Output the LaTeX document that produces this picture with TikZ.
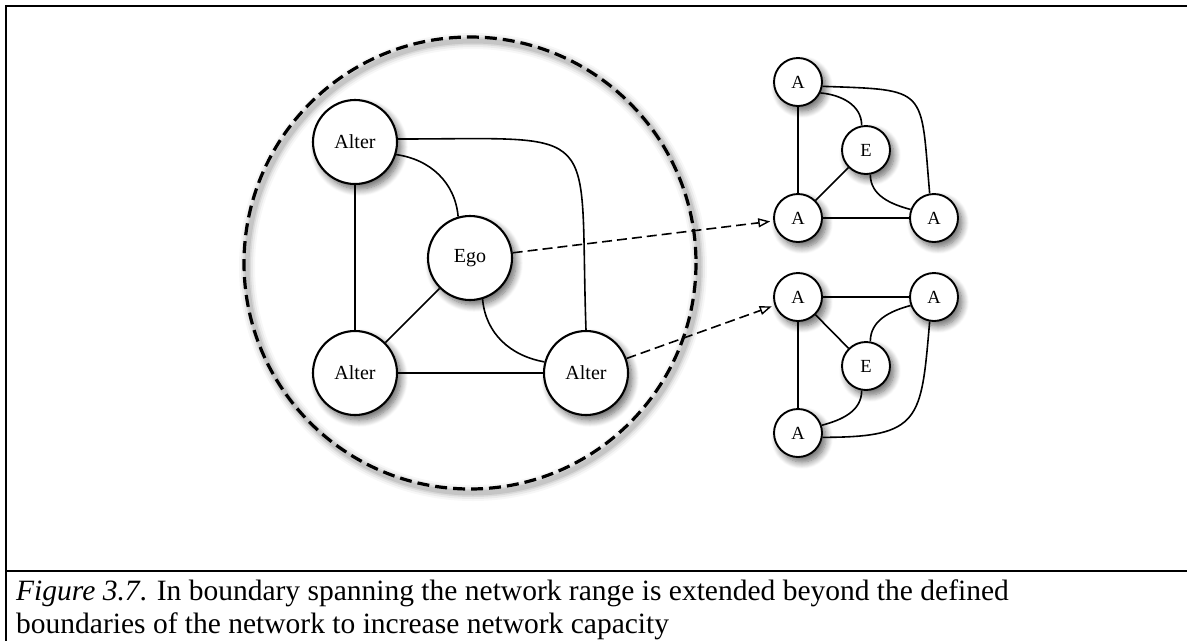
\documentclass[tikz,border=0pt]{standalone}
\usepackage{fontspec}
\setmainfont{Liberation Serif}
\usetikzlibrary{arrows.meta,shadows.blur}

\tikzset{
  nodeshadow/.style={blur shadow={shadow xshift=4pt, shadow yshift=-5pt, shadow blur radius=7pt,
    shadow blur steps=10, shadow opacity=60}},
  bignode/.style={circle, draw, line width=2.1pt, fill=white, minimum size=84pt, inner sep=0pt,
    font=\fontsize{20}{22}\selectfont, nodeshadow},
  smallnode/.style={circle, draw, line width=1.9pt, fill=white, minimum size=48pt, inner sep=0pt,
    font=\fontsize{18.5}{20}\selectfont, nodeshadow},
  tie/.style={line width=1.6pt},
  link/.style={line width=1.6pt, dash pattern=on 10pt off 5pt, shorten >=3pt,
    -{Triangle[open, length=12pt, width=9pt, line width=1.4pt]}},
  rim/.style={line width=3.2pt, dash pattern=on 12pt off 6pt},
  frame/.style={line width=2pt},
}

\begin{document}
\begin{tikzpicture}[x=1pt, y=-1pt]
\useasboundingbox (0,0) rectangle (1187,641);

% soft halo under the ego network boundary
\foreach \w/\o in {16/0.03, 12/0.05, 8/0.07, 5/0.09} {
  \draw[line width=\w pt, black, opacity=\o] (473,267) circle[radius=226];
}
\draw[rim] (470,263) circle[radius=226];

% ego network
\node[bignode] (tl)  at (355,142) {Alter};
\node[bignode] (ego) at (470,258) {Ego};
\node[bignode] (bl)  at (355,373) {Alter};
\node[bignode] (br)  at (586,373) {Alter};

% first outside network
\node[smallnode] (a1) at (798,82)  {A};
\node[smallnode] (e1) at (866,150) {E};
\node[smallnode] (a2) at (798,218) {A};
\node[smallnode] (a3) at (934,218) {A};

% second outside network
\node[smallnode] (b1) at (798,297) {A};
\node[smallnode] (b2) at (934,297) {A};
\node[smallnode] (e2) at (866,366) {E};
\node[smallnode] (b3) at (798,433) {A};

% ties inside the ego network
\draw[tie] (tl) -- (bl);
\draw[tie] (bl) -- (br);
\draw[tie] (bl) -- (ego);
\draw[tie] (tl.-17) to[out=-8, in=95] (ego.106);
\draw[tie] (tl.4) to[out=0, in=92, looseness=2] (br.north);
\draw[tie] (ego.-73) to[out=-85, in=170] (br.165);

% ties of the first outside network
\draw[tie] (a1) -- (a2);
\draw[tie] (a2) -- (a3);
\draw[tie] (a2) -- (e1);
\draw[tie] (a1.-26) to[out=-5, in=90] (e1.100);
\draw[tie] (a1.-10) to[out=-2, in=95, looseness=1.8] (a3.100);
\draw[tie] (e1.-80) to[out=-90, in=165] (a3.160);

% ties of the second outside network
\draw[tie] (b1) -- (b2);
\draw[tie] (b1) -- (b3);
\draw[tie] (b1) -- (e2);
\draw[tie] (e2.80) to[out=90, in=195] (b2.200);
\draw[tie] (e2.-100) to[out=-90, in=15] (b3.18);
\draw[tie] (b3.-10) to[out=0, in=-95, looseness=1.6] (b2.-100);

% boundary spanning links
\draw[link] (ego) -- (a2);
\draw[link] (br) -- (b1);

% page frame
\coordinate (ftl) at (6,6);
\coordinate (ftr) at (1187,6);
\coordinate (fbl) at (6,641);
\coordinate (dl) at (6,571);
\coordinate (dr) at (1187,571);
\draw[frame] (ftr) -- (ftl) -- (fbl);
\draw[frame] (dl) -- (dr);

% caption
\node[anchor=base west, inner sep=0pt, align=left,
      font=\fontsize{29.5}{33}\selectfont] (cap) at (16,633)
  {\textit{Figure 3.7}. In boundary spanning the network range is extended beyond the defined\\
   boundaries of the network to increase network capacity};
\end{tikzpicture}
\end{document}
